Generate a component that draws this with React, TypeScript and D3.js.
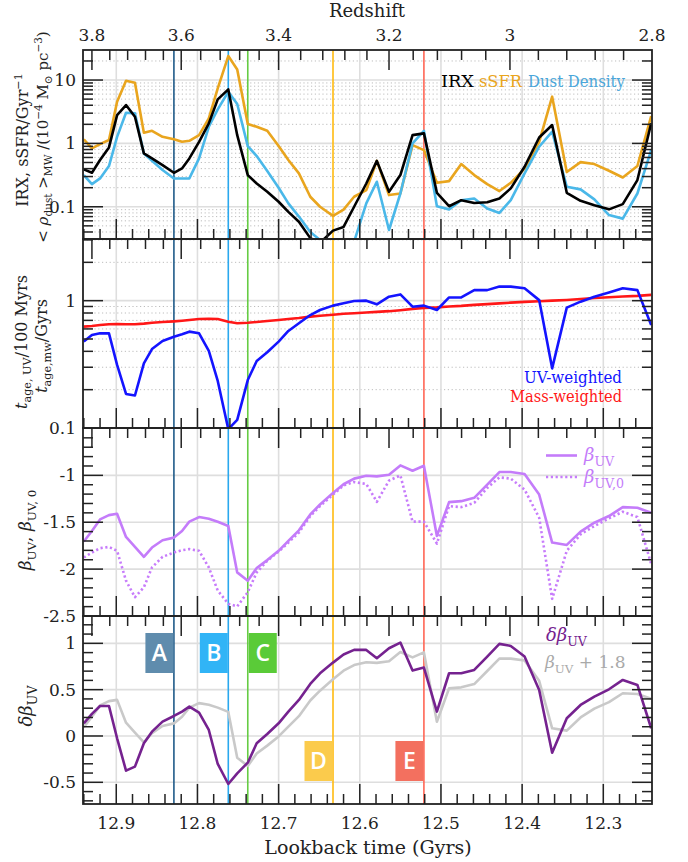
import { useEffect, useRef } from 'react';
import * as d3 from 'd3';

// lookback time of each snapshot (Gyrs)
const lookback = [
  12.94, 12.93, 12.92, 12.909, 12.899, 12.888, 12.877, 12.866, 12.856, 12.843,
  12.829, 12.819, 12.81, 12.798, 12.786, 12.775, 12.762, 12.751, 12.738, 12.727,
  12.714, 12.7, 12.688, 12.675, 12.661, 12.649, 12.633, 12.62, 12.607, 12.592,
  12.579, 12.564, 12.55, 12.535, 12.521, 12.505, 12.49, 12.475, 12.459, 12.443,
  12.428, 12.414, 12.397, 12.379, 12.363, 12.345, 12.328, 12.311, 12.293, 12.276,
  12.258, 12.241,
];

// panel 1
const irx = [
  0.389, 0.344, 0.546, 0.865, 2.8, 4.03, 2.64, 0.695, 0.58, 0.455,
  0.344, 0.403, 0.58, 1.06, 2.07, 4.95, 7.12, 1.35, 0.316, 0.233,
  0.173, 0.12, 0.083, 0.058, 0.032, 0.027, 0.042, 0.048, 0.1, 0.233,
  0.53, 0.173, 0.316, 1.35, 1.44, 0.166, 0.102, 0.127, 0.115, 0.118,
  0.135, 0.195, 0.428, 1.24, 1.95, 0.166, 0.124, 0.106, 0.091, 0.11,
  0.264, 2.07,
];
const ssfr = [
  1.16, 0.834, 0.976, 1.13, 4.55, 9.76, 9.08, 1.47, 1.58, 1.27,
  1.16, 1.06, 1.1, 1.35, 2.48, 7.39, 23.9, 14.7, 2.02, 1.83,
  1.58, 0.908, 0.546, 0.336, 0.144, 0.1, 0.072, 0.09, 0.144, 0.183,
  0.53, 0.153, 0.162, 0.94, 0.785, 0.239, 0.254, 0.472, 0.316, 0.228,
  0.177, 0.239, 0.4, 1.06, 5.46, 0.353, 0.507, 0.472, 0.37, 0.29,
  0.44, 2.7,
];
const dustDensity = [
  0.316, 0.228, 0.28, 0.439, 1.27, 3.05, 2.98, 0.695, 0.533, 0.38,
  0.28, 0.28, 0.28, 0.58, 1.83, 3.44, 6.54, 4.18, 0.908, 0.63,
  0.366, 0.2, 0.113, 0.07, 0.04, 0.03, 0.012, 0.012, 0.028, 0.113,
  0.248, 0.043, 0.162, 1.0, 1.58, 0.102, 0.091, 0.127, 0.135, 0.094,
  0.08, 0.127, 0.336, 0.886, 1.53, 0.207, 0.188, 0.131, 0.074, 0.065,
  0.162, 0.785,
];

// panel 2
const ageUV = [
  0.477, 0.537, 0.554, 0.554, 0.313, 0.185, 0.18, 0.322, 0.417, 0.482,
  0.521, 0.544, 0.571, 0.554, 0.403, 0.234, 0.098, 0.116, 0.238, 0.336,
  0.393, 0.477, 0.578, 0.664, 0.771, 0.845, 0.914, 0.953, 0.994, 1.0,
  0.936, 1.075, 1.12, 0.897, 0.914, 0.845, 1.06, 1.06, 1.21, 1.21,
  1.29, 1.29, 1.25, 1.01, 0.294, 0.881, 0.982, 1.075, 1.16, 1.25,
  1.21, 0.644,
];
const ageMass = [
  0.625, 0.632, 0.644, 0.652, 0.656, 0.652, 0.652, 0.66, 0.671, 0.68,
  0.688, 0.696, 0.705, 0.718, 0.722, 0.718, 0.684, 0.664, 0.671, 0.68,
  0.692, 0.705, 0.718, 0.731, 0.749, 0.762, 0.776, 0.79, 0.797, 0.807,
  0.817, 0.827, 0.842, 0.862, 0.878, 0.886, 0.9, 0.91, 0.927, 0.94,
  0.953, 0.965, 0.978, 0.99, 1.0, 1.013, 1.03, 1.048, 1.063, 1.077,
  1.09, 1.11,
];

// panel 3
const betaUV = [
  -1.706, -1.593, -1.47, -1.424, -1.41, -1.657, -1.763, -1.869, -1.77, -1.692,
  -1.664, -1.593, -1.494, -1.445, -1.463, -1.494, -1.54, -2.035, -2.123, -1.989,
  -1.904, -1.805, -1.699, -1.586, -1.417, -1.311, -1.187, -1.095, -1.035, -1.004,
  -1.011, -0.993, -0.894, -0.951, -0.898, -1.646, -1.286, -1.275, -1.24, -1.099,
  -0.965, -0.965, -0.986, -1.205, -1.717, -1.742, -1.6, -1.505, -1.434, -1.339,
  -1.346, -1.399,
];
const betaUV0 = [
  -1.876, -1.823, -1.777, -1.763, -1.805, -2.123, -2.3, -2.194, -1.982, -1.869,
  -1.823, -1.798, -1.787, -1.805, -1.982, -2.229, -2.37, -2.398, -2.246, -2.035,
  -1.911, -1.812, -1.717, -1.611, -1.434, -1.328, -1.205, -1.108, -1.071, -1.092,
  -1.282, -1.056, -1.0, -1.494, -1.494, -1.727, -1.328, -1.339, -1.293, -1.134,
  -1.021, -1.035, -1.152, -1.452, -2.317, -1.805, -1.629, -1.54, -1.459, -1.388,
  -1.445, -1.946,
];

// panel 4
const deltaBeta = [
  0.137, 0.238, 0.324, 0.324, -0.025, -0.374, -0.331, -0.079, 0.047, 0.155,
  0.216, 0.263, 0.317, 0.252, 0.065, -0.302, -0.518, -0.403, -0.288, -0.079,
  0.022, 0.137, 0.263, 0.389, 0.562, 0.677, 0.792, 0.88, 0.929, 0.929,
  0.839, 0.947, 1.008, 0.706, 0.738, 0.263, 0.677, 0.677, 0.713, 0.857,
  0.994, 0.972, 0.857, 0.497, -0.18, 0.191, 0.335, 0.425, 0.504, 0.605,
  0.551, 0.083,
];
const betaOffset = 1.8;

// marked events
const eventNames = ['A', 'B', 'C', 'D', 'E'];
const eventTimes = [12.829, 12.762, 12.738, 12.633, 12.521];
const eventColors = ['#1f5a88', '#2aa8ee', '#66cc44', '#ffbb11', '#ff6655'];
const eventBoxColors = ['#5f8cad', '#31b4f6', '#5acb38', '#fbcb4c', '#f3705f'];

// axes
const lookbackTicks = [12.9, 12.8, 12.7, 12.6, 12.5, 12.4, 12.3];
const redshiftTicks = [3.8, 3.6, 3.4, 3.2, 3, 2.8];
const redshiftTickTimes = [12.93, 12.82, 12.7, 12.564, 12.415, 12.24];

const SERIF = "'DejaVu Serif', serif";

type Seg = { t: string; sub?: boolean; sup?: boolean; it?: boolean };

const richText = (text: any, segs: Seg[], size: number) => {
  let shift = 0;
  segs.forEach((s) => {
    const target = s.sub ? size * 0.28 : s.sup ? -size * 0.4 : 0;
    text
      .append('tspan')
      .attr('dy', target - shift)
      .attr('font-size', s.sub || s.sup ? size * 0.7 : size)
      .attr('font-style', s.it ? 'italic' : 'normal')
      .text(s.t);
    shift = target;
  });
};

const App = () => {
  const svgRef = useRef<SVGSVGElement>(null);

  useEffect(() => {
    document.body.style.margin = '0';
    const W = 688;
    const H = 862;
    const left = 83;
    const right = 652;
    const tops = [50, 239, 428, 616];
    const bottoms = [239, 428, 616, 804];

    const svg = d3.select(svgRef.current);
    svg.selectAll('*').remove();
    svg.attr('width', W).attr('height', H).style('font-family', SERIF);
    svg.append('rect').attr('width', W).attr('height', H).attr('fill', 'white');

    const x = d3.scaleLinear().domain([12.941, 12.24]).range([left, right]);
    const zToT = d3.scaleLinear().domain(redshiftTicks).range(redshiftTickTimes);

    const yScales: any[] = [
      d3.scaleLog().domain([0.031, 29.8]).range([bottoms[0], tops[0]]),
      d3.scaleLog().domain([0.1, 3.05]).range([bottoms[1], tops[1]]),
      d3.scaleLinear().domain([-2.5, -0.495]).range([bottoms[2], tops[2]]),
      d3.scaleLinear().domain([-0.734, 1.295]).range([bottoms[3], tops[3]]),
    ];

    const logMinors = (lo: number, hi: number) => {
      const out: number[] = [];
      [0.01, 0.1, 1, 10].forEach((d) => {
        for (let k = 2; k <= 9; k++) {
          const v = k * d;
          if (v > lo && v < hi) out.push(v);
        }
      });
      return out;
    };
    const notHalf = (v: number) => Math.abs(v * 2 - Math.round(v * 2)) > 1e-6;
    const majors = [
      [0.1, 1, 10],
      [0.1, 1],
      [-2.5, -2, -1.5, -1],
      [-0.5, 0, 0.5, 1],
    ];
    const minors = [
      logMinors(0.031, 29.8),
      logMinors(0.1, 3.05),
      d3.range(-25, -4).map((k) => k / 10).filter(notHalf),
      d3.range(-7, 13).map((k) => k / 10).filter(notHalf),
    ];
    const gridSolid = [[0.1, 1, 10], [1], [-2, -1.5, -1], [-0.5, 0, 0.5, 1]];
    const gridDotted = [minors[0], minors[1], [], []];
    const tickLabels = [
      ['10', '1', '0.1'],
      ['1', '0.1'],
      ['-1', '-1.5', '-2', '-2.5'],
      ['1', '0.5', '0', '-0.5'],
    ];
    const tickLabelValues = [
      [10, 1, 0.1],
      [1, 0.1],
      [-1, -1.5, -2, -2.5],
      [1, 0.5, 0, -0.5],
    ];

    const defs = svg.append('defs');
    tops.forEach((t, i) => {
      defs
        .append('clipPath')
        .attr('id', `clip${i}`)
        .append('rect')
        .attr('x', left)
        .attr('y', t)
        .attr('width', right - left)
        .attr('height', bottoms[i] - t);
    });

    // grids
    tops.forEach((t, i) => {
      const g = svg.append('g').attr('clip-path', `url(#clip${i})`);
      const y = yScales[i];
      gridDotted[i].forEach((v: number) => {
        g.append('line')
          .attr('x1', left).attr('x2', right)
          .attr('y1', y(v)).attr('y2', y(v))
          .attr('stroke', '#bdbdbd').attr('stroke-width', 1)
          .attr('stroke-dasharray', '1.2,2.6');
      });
      gridSolid[i].forEach((v: number) => {
        g.append('line')
          .attr('x1', left).attr('x2', right)
          .attr('y1', y(v)).attr('y2', y(v))
          .attr('stroke', '#dedede').attr('stroke-width', 1.6);
      });
      lookbackTicks.forEach((v) => {
        g.append('line')
          .attr('x1', x(v)).attr('x2', x(v))
          .attr('y1', t).attr('y2', bottoms[i])
          .attr('stroke', '#dedede').attr('stroke-width', 1.6);
      });
    });

    // event lines
    eventTimes.forEach((tm, i) => {
      svg.append('line')
        .attr('x1', x(tm)).attr('x2', x(tm))
        .attr('y1', tops[0]).attr('y2', bottoms[3])
        .attr('stroke', eventColors[i]).attr('stroke-width', 1.6);
    });

    // data lines
    const drawLine = (panel: number, values: number[], color: string, dash?: string) => {
      const y = yScales[panel];
      const line = d3
        .line<number>()
        .x((_, k) => x(lookback[k]))
        .y((v) => y(v));
      svg.append('g').attr('clip-path', `url(#clip${panel})`)
        .append('path')
        .attr('d', line(values))
        .attr('fill', 'none')
        .attr('stroke', color)
        .attr('stroke-width', 2.6)
        .attr('stroke-linejoin', 'round')
        .attr('stroke-dasharray', dash || null);
    };

    drawLine(0, ssfr, '#e9a51e');
    drawLine(0, dustDensity, '#4ab8e9');
    drawLine(0, irx, '#000000');
    drawLine(1, ageMass, '#ff1717');
    drawLine(1, ageUV, '#1414ff');
    drawLine(2, betaUV0, '#c77cfb', '2.2,2.6');
    drawLine(2, betaUV, '#c47cfa');
    drawLine(3, betaUV.map((v) => v + betaOffset), '#c9c9c9');
    drawLine(3, deltaBeta, '#75228f');

    // frames and ticks
    const tickColor = '#222';
    tops.forEach((t, i) => {
      const b = bottoms[i];
      const y = yScales[i];
      const g = svg.append('g').attr('stroke', tickColor).attr('stroke-width', 1.5);
      // top: redshift
      d3.range(69, 97).forEach((k) => {
        const px = x(zToT(k * 0.04));
        if (px < left + 0.5 || px > right - 0.5) return;
        const major = k % 5 === 0;
        g.append('line').attr('x1', px).attr('x2', px).attr('y1', t).attr('y2', t + (major ? 20 : 10));
      });
      // bottom: lookback time
      d3.range(612, 648).forEach((k) => {
        const px = x(k / 50);
        if (px < left + 0.5 || px > right - 0.5) return;
        const major = k % 5 === 0;
        g.append('line').attr('x1', px).attr('x2', px).attr('y1', b).attr('y2', b - (major ? 20 : 10));
      });
      // left and right
      const drawY = (v: number, len: number) => {
        const py = y(v);
        if (py < t + 0.5 || py > b - 0.5) return;
        g.append('line').attr('x1', left).attr('x2', left + len).attr('y1', py).attr('y2', py);
        g.append('line').attr('x1', right).attr('x2', right - len).attr('y1', py).attr('y2', py);
      };
      majors[i].forEach((v) => drawY(v, 20));
      minors[i].forEach((v) => drawY(v, 10));

      svg.append('rect')
        .attr('x', left).attr('y', t)
        .attr('width', right - left).attr('height', b - t)
        .attr('fill', 'none').attr('stroke', tickColor).attr('stroke-width', 1.8);

      tickLabels[i].forEach((lab, k) => {
        svg.append('text')
          .attr('x', left - 7)
          .attr('y', y(tickLabelValues[i][k]))
          .attr('dy', '0.35em')
          .attr('text-anchor', 'end')
          .attr('font-size', 17)
          .attr('fill', '#222')
          .text(lab);
      });
    });

    // bottom axis labels
    lookbackTicks.forEach((v) => {
      svg.append('text')
        .attr('x', x(v)).attr('y', 829)
        .attr('text-anchor', 'middle')
        .attr('font-size', 17)
        .attr('fill', '#222')
        .text(String(v));
    });
    svg.append('text')
      .attr('x', 368).attr('y', 854)
      .attr('text-anchor', 'middle')
      .attr('font-size', 19)
      .attr('fill', '#222')
      .text('Lookback time (Gyrs)');

    // top axis labels
    redshiftTicks.forEach((z, k) => {
      svg.append('text')
        .attr('x', x(redshiftTickTimes[k])).attr('y', 41)
        .attr('text-anchor', 'middle')
        .attr('font-size', 17)
        .attr('fill', '#222')
        .text(String(z));
    });
    svg.append('text')
      .attr('x', 367).attr('y', 17)
      .attr('text-anchor', 'middle')
      .attr('font-size', 18)
      .attr('fill', '#222')
      .text('Redshift');

    // y axis titles
    const yTitle = (cx: number, cy: number, segs: Seg[], size = 16) => {
      const text = svg.append('text')
        .attr('transform', `translate(${cx},${cy}) rotate(-90)`)
        .attr('text-anchor', 'middle')
        .attr('fill', '#222');
      richText(text, segs, size);
    };
    yTitle(28, 140, [{ t: 'IRX, sSFR/Gyr' }, { t: '−1', sup: true }]);
    yTitle(48, 137, [
      { t: '< ' }, { t: 'ρ', it: true }, { t: 'dust', sub: true }, { t: ' >' },
      { t: 'MW', sub: true }, { t: ' /(10' }, { t: '−4', sup: true }, { t: ' M' },
      { t: '⊙', sub: true }, { t: ' pc' }, { t: '−3', sup: true }, { t: ')' },
    ], 15);
    yTitle(27, 342, [{ t: 't', it: true }, { t: 'age, UV', sub: true }, { t: '/100 Myrs' }]);
    yTitle(47, 346, [{ t: 't', it: true }, { t: 'age,mw', sub: true }, { t: '/Gyrs' }]);
    yTitle(31, 530, [
      { t: 'β', it: true }, { t: 'UV', sub: true }, { t: ',  ' },
      { t: 'β', it: true }, { t: 'UV, 0', sub: true },
    ], 17);
    yTitle(32, 706, [{ t: 'δβ', it: true }, { t: 'UV', sub: true }], 18);

    // legends
    const legendText = (px: number, py: number, color: string, anchor = 'start', size = 17) =>
      svg.append('text')
        .attr('x', px).attr('y', py)
        .attr('text-anchor', anchor)
        .attr('font-size', size)
        .attr('fill', color);
    const fitted = (px: number, py: number, color: string, label: string, width: number) =>
      legendText(px, py, color)
        .attr('textLength', width)
        .attr('lengthAdjust', 'spacingAndGlyphs')
        .text(label);

    fitted(441, 87, '#000', 'IRX', 33);
    fitted(479, 87, '#e9a51e', 'sSFR', 43);
    fitted(528, 87, '#4aa6da', 'Dust Density', 97);

    fitted(524, 383, '#1414ff', 'UV-weighted', 98);
    fitted(510, 402, '#ff1717', 'Mass-weighted', 112);

    svg.append('line')
      .attr('x1', 546).attr('x2', 577).attr('y1', 455.5).attr('y2', 455.5)
      .attr('stroke', '#c47cfa').attr('stroke-width', 2.6);
    svg.append('line')
      .attr('x1', 546).attr('x2', 577).attr('y1', 477).attr('y2', 477)
      .attr('stroke', '#c77cfb').attr('stroke-width', 2.6).attr('stroke-dasharray', '2.2,2.6');
    richText(legendText(584, 461, '#c47cfa'), [{ t: 'β', it: true }, { t: 'UV', sub: true }], 18);
    richText(legendText(584, 483, '#c47cfa'), [{ t: 'β', it: true }, { t: 'UV,0', sub: true }], 18);

    richText(legendText(546, 641, '#75228f'), [{ t: 'δβ', it: true }, { t: 'UV', sub: true }], 18);
    richText(legendText(545, 668, '#a9a9a9'), [{ t: 'β', it: true }, { t: 'UV', sub: true }, { t: ' + 1.8' }], 17);

    // event boxes
    const boxW = 28;
    const boxH = 40;
    const boxRows = [633, 633, 633, 741, 741];
    const boxSide = [-1, -1, 1, -1, -1];
    eventTimes.forEach((tm, i) => {
      const px = x(tm);
      const bx = boxSide[i] < 0 ? px - boxW - 0.5 : px + 1;
      svg.append('rect')
        .attr('x', bx).attr('y', boxRows[i])
        .attr('width', boxW).attr('height', boxH)
        .attr('fill', eventBoxColors[i]);
      svg.append('text')
        .attr('x', bx + boxW / 2).attr('y', boxRows[i] + boxH / 2)
        .attr('dy', '0.36em')
        .attr('text-anchor', 'middle')
        .style('font-family', "'Open Sans', 'DejaVu Sans', sans-serif")
        .attr('font-size', 23)
        .attr('font-weight', 600)
        .attr('fill', 'white')
        .text(eventNames[i]);
    });
  }, []);

  return <svg ref={svgRef} style={{ display: 'block' }} />;
};

export default App;
